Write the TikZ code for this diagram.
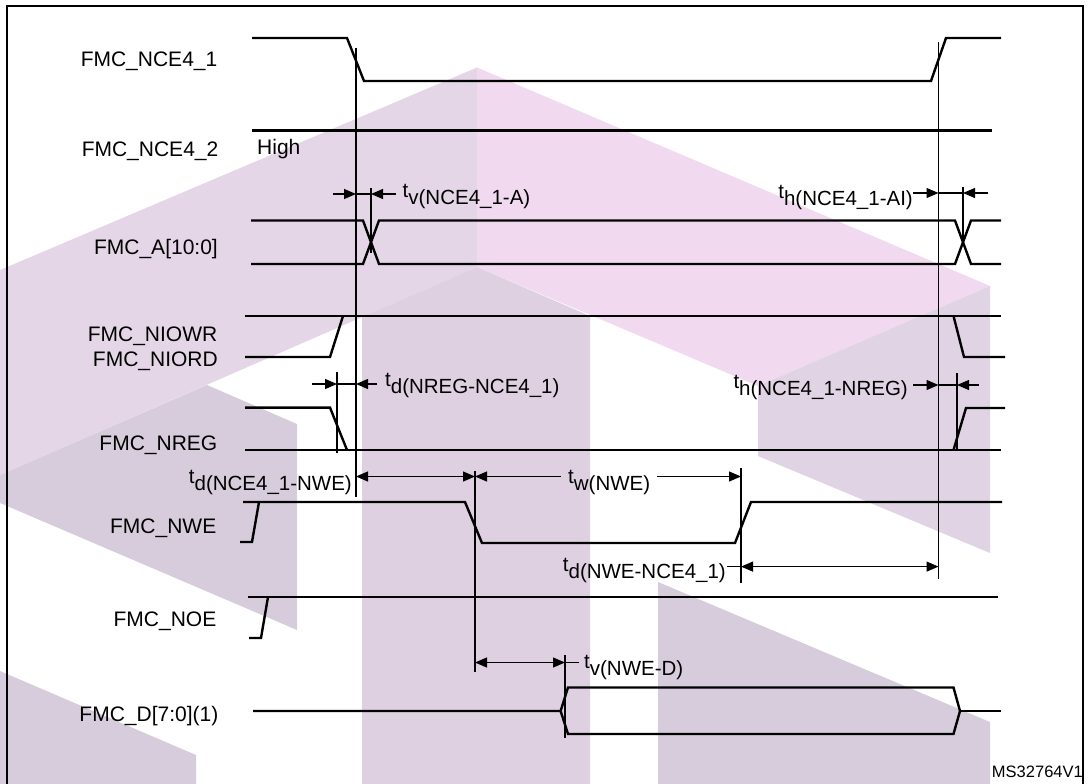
\documentclass[tikz,border=0pt]{standalone}
\usepackage{fontspec}
\setmainfont{Liberation Sans}
\usetikzlibrary{arrows.meta}
\definecolor{wmA}{HTML}{E4D6E6}
\definecolor{wmPink}{HTML}{F1D9F0}
\definecolor{wmC}{HTML}{DED0E1}
\definecolor{wmD}{HTML}{D6CCDC}
\definecolor{wmR}{HTML}{E0D3E3}
\newcommand{\tsub}[2]{#1\raisebox{-7pt}{#2}}
\begin{document}
\begin{tikzpicture}[x=1pt,y=-1pt,
  sig/.style={line width=2.4pt, line join=miter},
  refl/.style={line width=1.1pt},
  diml/.style={line width=1.1pt},
  arr/.style={diml,-{Triangle[length=12pt,width=10pt]}},
  darr/.style={diml,{Triangle[length=12pt,width=10pt]}-{Triangle[length=12pt,width=10pt]}},
  lab/.style={font=\fontsize{21}{25}\selectfont, inner sep=0pt, anchor=base east},
  tlab/.style={font=\fontsize{20.5}{24}\selectfont, inner sep=0pt},
]
\useasboundingbox (0,0) rectangle (1088,784);
% watermark
\fill[wmA] (0,270) -- (477,67.5) -- (477,267) -- (0,475) -- cycle;
\fill[wmPink] (477,67.5) -- (990,286) -- (758,386) -- (477,267) -- cycle;
\fill[wmC] (362,317) -- (477,267) -- (590,316) -- (590,784) -- (362,784) -- cycle;
\fill[wmD] (0,475) -- (207,385) -- (297,424) -- (297,630) -- (0,503) -- cycle;
\fill[wmD] (0,671) -- (196,755) -- (196,784) -- (0,784) -- cycle;
\fill[wmR] (758,386) -- (990,286) -- (990,553) -- (758,456) -- cycle;
\fill[wmD] (658,582) -- (990,722) -- (990,784) -- (658,784) -- cycle;
% frame
\draw[line width=2.2pt] (7,790) -- (7,6) -- (1083,6) -- (1083,790);
% labels
\node[lab] (lnce1) at (217.5,66.7) {FMC\_NCE4\_1};
\node[lab] (lnce2) at (218.5,156.6) {FMC\_NCE4\_2};
\node[lab] (la) at (218,254) {FMC\_A[10:0]};
\node[lab] (lniowr) at (217.5,341.6) {FMC\_NIOWR};
\node[lab] (lniord) at (218,366) {FMC\_NIORD};
\node[lab] (lnreg) at (217.5,450.5) {FMC\_NREG};
\node[lab] (lnwe) at (216.5,533) {FMC\_NWE};
\node[lab] (lnoe) at (216.5,626) {FMC\_NOE};
\node[lab] (ld) at (218.5,721.5) {FMC\_D[7:0](1)};
\node[lab,anchor=base west] (lhigh) at (257,154) {High};
\node[font=\fontsize{16.5}{19}\selectfont, inner sep=0pt, anchor=base east] (lms) at (1083,777) {MS32764V1};
% FMC_NCE4_1
\draw[sig] (252,38) -- (347,38) -- (364,81) -- (931,81) -- (946,38) -- (1001,38);
% FMC_NCE4_2
\draw[sig] (252,130.5) -- (992,130.5);
% FMC_A
\draw[sig] (251,220.5) -- (363,220.5) -- (379,264) -- (955,264) -- (971,220.5) -- (1001,220.5);
\draw[sig] (251,264) -- (363,264) -- (379,220.5) -- (955,220.5) -- (971,264) -- (1001,264);
% FMC_NIOWR / NIORD
\draw[sig] (245,316) -- (1001,316);
\draw[sig] (245,357) -- (330,357) -- (343,316);
\draw[sig] (953.5,316) -- (964,357) -- (1005,357);
% FMC_NREG
\draw[sig] (245,407.6) -- (330,407.6) -- (347,450);
\draw[sig] (245,450) -- (1001,450);
\draw[sig] (953.5,450) -- (966,408) -- (1005,408);
% FMC_NWE
\draw[sig] (240,542) -- (252,542) -- (259,502);
\draw[sig] (243,502) -- (465,502) -- (482,543) -- (735,543) -- (751,502) -- (1002,502);
% FMC_NOE
\draw[sig] (249,638) -- (261,638) -- (268,597);
\draw[sig] (248,597) -- (998,597);
% FMC_D
\draw[sig] (253,711) -- (560.6,711) -- (568,687.5) -- (953.5,687.5) -- (960,711) -- (953.5,734) -- (568,734) -- (560.6,711);
\draw[sig] (960,711) -- (1001,711);
% reference lines
\draw[refl] (356,48) -- (356,497);
\draw[refl] (938.5,42) -- (938.5,579);
\draw[refl] (371,188) -- (371,253);
\draw[refl] (963,187) -- (963,246);
\draw[refl] (337,372) -- (337,453);
\draw[refl] (957,373) -- (957,450);
\draw[refl] (475,471) -- (475,672);
\draw[refl] (741,468) -- (741,583);
\draw[refl] (565,655) -- (565,738);
% tv(NCE4_1-A)
\draw[arr] (333,194) -- (356,194);
\draw[diml] (356,194) -- (371,194);
\draw[arr] (396,194) -- (371,194);
\node[tlab,anchor=base west] (ltv1) at (402.5,197) {\tsub{t}{v(NCE4\_1-A)}};
% th(NCE4_1-AI)
\node[tlab,anchor=base east] (lth1) at (913,198) {\tsub{t}{h(NCE4\_1-AI)}};
\draw[arr] (913,193) -- (938.5,193);
\draw[diml] (938.5,193) -- (963,193);
\draw[arr] (988,193) -- (963,193);
% td(NREG-NCE4_1)
\draw[arr] (312,384) -- (337,384);
\draw[diml] (337,384) -- (356,384);
\draw[arr] (377,384) -- (356,384);
\node[tlab,anchor=base west] (ltd1) at (385,386) {\tsub{t}{d(NREG-NCE4\_1)}};
% th(NCE4_1-NREG)
\node[tlab,anchor=base east] (lth2) at (908,388) {\tsub{t}{h(NCE4\_1-NREG)}};
\draw[arr] (913,385) -- (938.5,385);
\draw[diml] (938.5,385) -- (957,385);
\draw[arr] (979,385) -- (957,385);
% td(NCE4_1-NWE)
\node[tlab,anchor=base east] (ltd2) at (352,483) {\tsub{t}{d(NCE4\_1-NWE)}};
\draw[darr] (356,476.5) -- (475,476.5);
% tw(NWE)
\node[tlab,anchor=base west] (ltw) at (568,483) {\tsub{t}{w(NWE)}};
\draw[{Triangle[length=12pt,width=10pt]}-,diml] (475,476.5) -- (561,476.5);
\draw[arr] (657,476.5) -- (741,476.5);
% td(NWE-NCE4_1)
\node[tlab,anchor=base east] (ltd3) at (726,571) {\tsub{t}{d(NWE-NCE4\_1)}};
\draw[diml] (727,566.6) -- (741,566.6);
\draw[darr] (741,566.6) -- (938.5,566.6);
% tv(NWE-D)
\draw[darr] (475,662.5) -- (565,662.5);
\draw[diml] (565,662.5) -- (579,662.5);
\node[tlab,anchor=base west] (ltv2) at (584,668) {\tsub{t}{v(NWE-D)}};
\end{tikzpicture}
\end{document}
